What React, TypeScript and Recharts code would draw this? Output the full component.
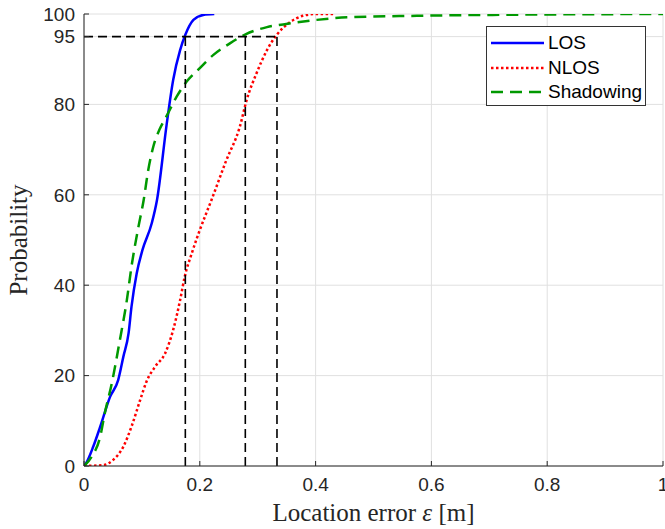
import React from 'react';
import { LineChart, Line, XAxis, YAxis, CartesianGrid, ReferenceLine, Legend } from 'recharts';

// CDF curves (x = location error in m, y = probability in %)
const losX = [0, 0.003, 0.016, 0.028, 0.045, 0.059, 0.068, 0.077, 0.082, 0.091, 0.101, 0.117, 0.126, 0.143, 0.154, 0.166, 0.175, 0.189, 0.206, 0.225];
const losY = [0, 0.5, 4.3, 8.7, 15.3, 19, 24.2, 29.4, 35.2, 42.6, 47.8, 53.7, 58.8, 75.8, 85.4, 92, 95.4, 98.7, 99.8, 100];

const nlosX = [0, 0.033, 0.05, 0.068, 0.082, 0.097, 0.108, 0.123, 0.14, 0.154, 0.166, 0.174, 0.186, 0.2, 0.22, 0.246, 0.269, 0.281, 0.298, 0.316, 0.333, 0.356, 0.378, 0.402, 0.434];
const nlosY = [0, 0.2, 1.3, 4.3, 8.7, 14.6, 18.7, 22, 24.9, 30.1, 36.7, 41.9, 47, 52.2, 58.8, 67.7, 75, 81, 86.9, 92, 95.4, 98.2, 99.6, 100, 100];

const shadX = [0, 0.013, 0.028, 0.036, 0.048, 0.062, 0.074, 0.082, 0.094, 0.103, 0.111, 0.12, 0.131, 0.143, 0.16, 0.177, 0.2, 0.223, 0.252, 0.279, 0.316, 0.344, 0.402, 0.459, 0.575, 0.805, 1];
const shadY = [0, 2, 6.5, 11.7, 18.3, 27.9, 36.7, 44.1, 52.9, 58.8, 65.5, 70.8, 74.6, 77.5, 81.7, 85, 88, 90.9, 93.5, 95.5, 97.1, 97.7, 98.7, 99.3, 99.6, 99.9, 100];

const xTicks = [0, 0.2, 0.4, 0.6, 0.8, 1];
const yTicks = [0, 20, 40, 60, 80, 95, 100];

// 95% level and where each curve crosses it
const level = 95;
const crossX = [0.175, 0.2786, 0.3333];

const toPoints = (xs: number[], ys: number[]) => xs.map((x, i) => ({ x, y: ys[i] }));

const series = [
  { name: 'LOS', data: toPoints(losX, losY), color: '#0000ff', dash: undefined as string | undefined },
  { name: 'NLOS', data: toPoints(nlosX, nlosY), color: '#ff0000', dash: '2.5 2.5' },
  { name: 'Shadowing', data: toPoints(shadX, shadY), color: '#009900', dash: '12 7' },
];

const sans = '"Liberation Sans", Arial, Helvetica, sans-serif';
const serif = '"Liberation Serif", "Times New Roman", serif';
const axisColor = '#262626';
const tickStyle = { fill: axisColor, fontSize: 19, fontFamily: sans };

const YLabel = (props: any) => {
  const vb = props.viewBox;
  const cx = 18;
  const cy = vb.y + vb.height / 2;
  return (
    <text x={cx} y={cy} transform={`rotate(-90 ${cx} ${cy})`} textAnchor="middle" dominantBaseline="central"
      fill={axisColor} fontFamily={serif} fontSize={25}>
      Probability
    </text>
  );
};

const XLabel = (props: any) => {
  const vb = props.viewBox;
  return (
    <text x={vb.x + vb.width / 2} y={521} textAnchor="middle" fill={axisColor} fontFamily={serif} fontSize={25}>
      Location error <tspan fontStyle="italic">ε</tspan> [m]
    </text>
  );
};

const LegendBox = () => (
  <div style={{
    border: '1px solid #333', background: '#fff', width: 160, height: 80, boxSizing: 'border-box',
    paddingTop: 4, fontFamily: sans, fontSize: 19, color: '#000',
  }}>
    {series.map((s) => (
      <div key={s.name} style={{ display: 'flex', alignItems: 'center', height: 24.5 }}>
        <svg width={59} height={10} style={{ display: 'block' }}>
          <line x1={4} x2={57} y1={5} y2={5} stroke={s.color} strokeWidth={2.5} strokeDasharray={s.dash} />
        </svg>
        <span style={{ marginLeft: 2 }}>{s.name}</span>
      </div>
    ))}
  </div>
);

export default function App() {
  return (
    <div style={{ position: 'absolute', left: 0, top: 0, background: '#fff' }}>
      <LineChart width={665} height={529} margin={{ top: 14, right: 2, bottom: 0, left: 0 }}>
        <CartesianGrid stroke="#e0e0e0" />
        <XAxis dataKey="x" type="number" domain={[0, 1]} ticks={xTicks} interval={0} allowDataOverflow
          height={63} tickSize={-5} tickMargin={17} tick={tickStyle}
          axisLine={{ stroke: axisColor }} tickLine={{ stroke: axisColor }}
          tickFormatter={(v: number) => String(v)} label={XLabel} />
        <XAxis xAxisId="top" orientation="top" type="number" domain={[0, 1]} ticks={xTicks} interval={0}
          allowDataOverflow height={0} tickSize={-5} tick={false}
          axisLine={{ stroke: axisColor }} tickLine={{ stroke: axisColor }} />
        <YAxis type="number" domain={[0, 100]} ticks={yTicks} interval={0} allowDataOverflow
          width={84} tickSize={-5} tickMargin={14} tick={tickStyle}
          axisLine={{ stroke: axisColor }} tickLine={{ stroke: axisColor }} label={YLabel} />
        <YAxis yAxisId="right" orientation="right" type="number" domain={[0, 100]} ticks={yTicks} interval={0}
          allowDataOverflow width={0} tickSize={-5} tick={false}
          axisLine={{ stroke: axisColor }} tickLine={{ stroke: axisColor }} />
        {series.map((s) => (
          <Line key={s.name} data={s.data} dataKey="y" name={s.name} type="monotone" stroke={s.color}
            strokeWidth={2.5} strokeDasharray={s.dash} dot={false} activeDot={false} isAnimationActive={false} />
        ))}
        <ReferenceLine segment={[{ x: 0, y: level }, { x: crossX[crossX.length - 1], y: level }]}
          stroke="#000" strokeWidth={1.6} strokeDasharray="9 5" />
        {crossX.map((cx) => (
          <ReferenceLine key={cx} segment={[{ x: cx, y: 0 }, { x: cx, y: level }]}
            stroke="#000" strokeWidth={1.6} strokeDasharray="9 5" />
        ))}
        <Legend layout="vertical" align="center" verticalAlign="middle" content={LegendBox}
          wrapperStyle={{ left: 486, top: 26, width: 160 }} />
      </LineChart>
    </div>
  );
}
